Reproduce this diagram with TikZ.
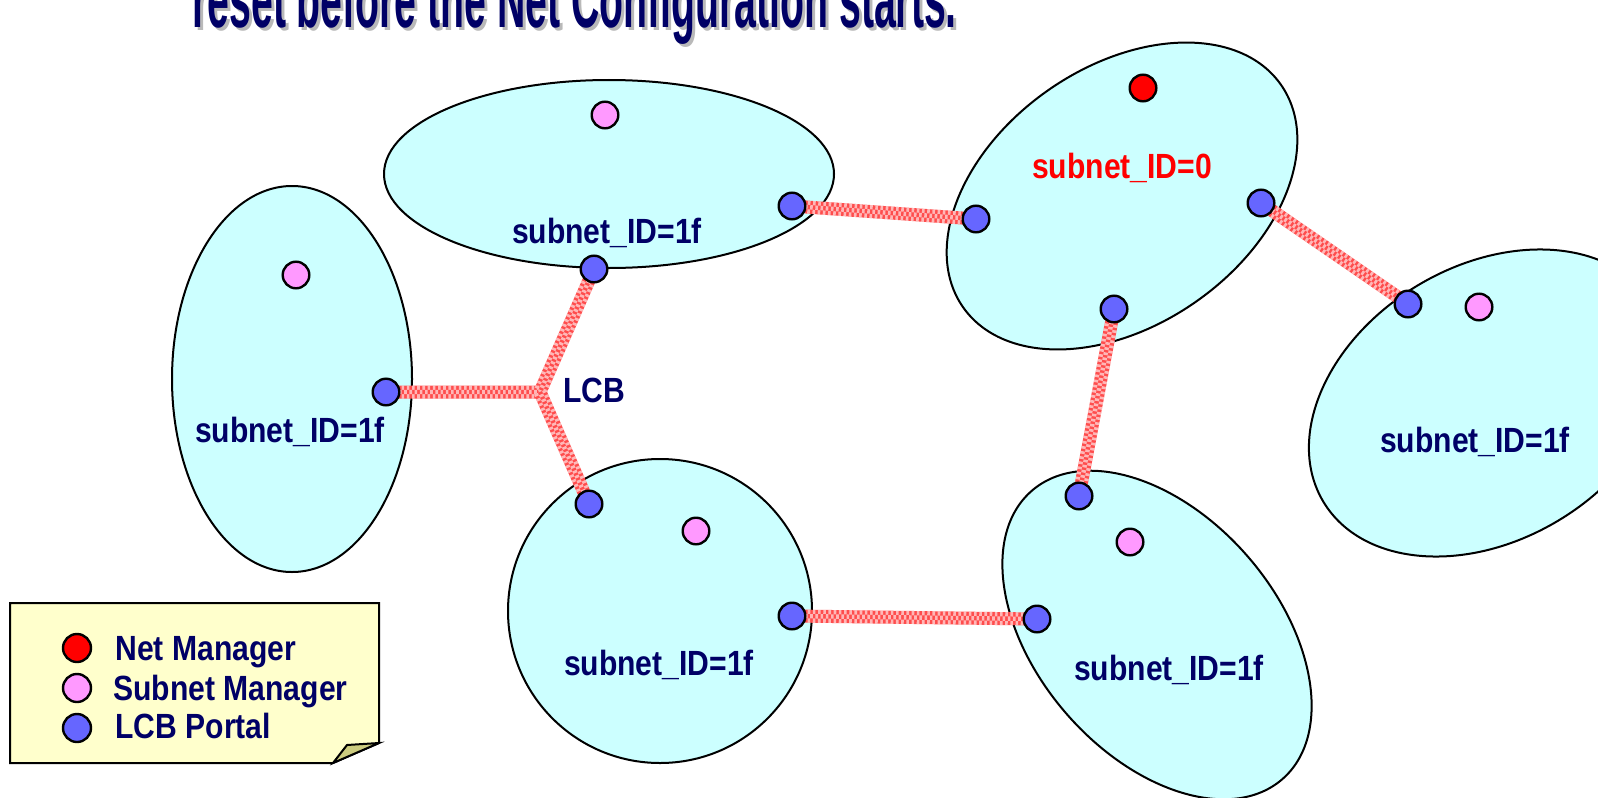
\documentclass[tikz,border=0pt]{standalone}
\usepackage{fontspec}
\setmainfont{Liberation Sans}
\newfontfamily\labelfont[FakeStretch=0.86]{Liberation Sans}
\newfontfamily\titlefont[FakeStretch=0.49]{Liberation Sans}
\definecolor{navy}{RGB}{0,0,102}
\definecolor{subnetfill}{RGB}{204,255,255}
\definecolor{portalblue}{RGB}{102,102,255}
\definecolor{managerpink}{RGB}{255,153,255}
\definecolor{linkred}{RGB}{255,77,77}
\definecolor{notepaper}{RGB}{255,255,204}
\definecolor{notefold}{RGB}{204,204,128}
\pgfdeclarelayer{bg}
\pgfdeclarelayer{wires}
\pgfsetlayers{bg,wires,main}
\tikzset{
  subnet/.style={fill=subnetfill,draw=black,line width=1pt},
  dot/.style={circle,draw=black,line width=1.2pt,minimum size=13.3pt,inner sep=0pt},
  portal/.style={dot,fill=portalblue},
  submgr/.style={dot,fill=managerpink},
  netmgr/.style={dot,fill=red},
  link/.style={line width=6.5pt,draw=linkred,
    postaction={draw=white,opacity=0.6,line width=6.5pt,dash pattern=on 1.3pt off 1.3pt},
    postaction={draw=linkred,line width=2.2pt},
    postaction={draw=white,opacity=0.6,line width=2.2pt,dash pattern=on 1.3pt off 1.3pt,dash phase=1.3pt}},
  idlabel/.style={font=\labelfont\bfseries\fontsize{17.5pt}{20pt}\selectfont,text=navy,inner sep=0pt,anchor=base},
  titlelabel/.style={font=\titlefont\bfseries\fontsize{40pt}{44pt}\selectfont,text=navy,inner sep=0pt,anchor=base west}
}
\begin{document}
\begin{tikzpicture}[x=0.5pt,y=-0.5pt]
    \useasboundingbox (0,0) rectangle (1598,797);
    \clip (0,0) rectangle (1598,797);
    \begin{pgfonlayer}{bg}
    \draw[subnet] (292,379) ellipse [x radius=120,y radius=193];
    \draw[subnet] (609,174) ellipse [x radius=225,y radius=94];
    \draw[subnet] (1122,196) ellipse [x radius=194,y radius=129,rotate=35];
    \draw[subnet] (660,611) circle [radius=152];
    \draw[subnet] (1157,635) ellipse [x radius=191,y radius=120,rotate=-49];
    \draw[subnet] (1488,403) ellipse [x radius=192,y radius=137,rotate=31];
    \end{pgfonlayer}
    \node[titlelabel,text=gray!55] (titleshadow) at (195,31) {reset before the Net Configuration starts.};
    \node[titlelabel] (title) at (192,28) {reset before the Net Configuration starts.};
    \node[submgr] (am) at (296,275) {};
    \node[portal] (a1) at (386,392) {};
    \node[submgr] (bm) at (605,115) {};
    \node[portal] (b1) at (792,206) {};
    \node[portal] (b2) at (594,269) {};
    \node[netmgr] (cm) at (1143,88) {};
    \node[portal] (c1) at (976,219) {};
    \node[portal] (c2) at (1261,203) {};
    \node[portal] (c3) at (1114,309) {};
    \node[portal] (d1) at (589,504) {};
    \node[submgr] (dm) at (696,531) {};
    \node[portal] (d2) at (792,616) {};
    \node[portal] (e1) at (1079,496) {};
    \node[submgr] (em) at (1130,542) {};
    \node[portal] (e2) at (1037,619) {};
    \node[portal] (f1) at (1408,304) {};
    \node[submgr] (fm) at (1479,307) {};
    \coordinate (lcb) at (540,392);
    \begin{pgfonlayer}{wires}
    \draw[link] (a1.center) -- (lcb) -- (b2.center);
    \draw[link] (lcb) -- (d1.center);
    \draw[link] (b1.center) -- (c1.center);
    \draw[link] (c2.center) -- (f1.center);
    \draw[link] (c3.center) -- (e1.center);
    \draw[link] (d2.center) -- (e2.center);
    \end{pgfonlayer}
    \node[idlabel,anchor=base west] (lcbtext) at (563,402) {LCB};
    \node[idlabel] (aid) at (290,442) {subnet\_ID=1f};
    \node[idlabel] (bid) at (607,243) {subnet\_ID=1f};
    \node[idlabel,text=red] (cid) at (1122,178) {subnet\_ID=0};
    \node[idlabel] (did) at (659,675) {subnet\_ID=1f};
    \node[idlabel] (eid) at (1169,680) {subnet\_ID=1f};
    \node[idlabel] (fid) at (1475,452) {subnet\_ID=1f};
    \draw[fill=notepaper,line width=1pt] (10,603) -- (379,603) -- (379,743) -- (333,763) -- (10,763) -- cycle;
    \draw[fill=notefold,line width=1pt] (333,763) -- (347,745) -- (379,743) -- cycle;
    \node[netmgr,minimum size=14pt] (keynet) at (77,648) {};
    \node[submgr,minimum size=14pt] (keysub) at (77,688) {};
    \node[portal,minimum size=14pt] (keyportal) at (77,728) {};
    \node[idlabel,anchor=base west] (keynettext) at (115,660) {Net Manager};
    \node[idlabel,anchor=base west] (keysubtext) at (113,700) {Subnet Manager};
    \node[idlabel,anchor=base west] (keyportaltext) at (115,738) {LCB Portal};
\end{tikzpicture}
\end{document}
